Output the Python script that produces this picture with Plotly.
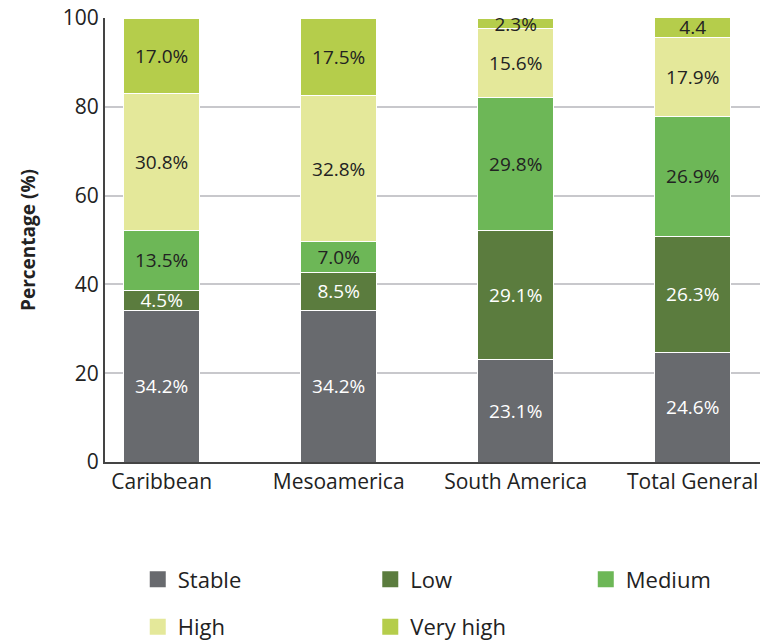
import plotly.graph_objects as go

categories = ["Caribbean", "Mesoamerica", "South America", "Total General"]
series_names = ["Stable", "Low", "Medium", "High", "Very high"]
stable = [34.2, 34.2, 23.1, 24.6]
low = [4.5, 8.5, 29.1, 26.3]
medium = [13.5, 7.0, 29.8, 26.9]
high = [30.8, 32.8, 15.6, 17.9]
very_high = [17.0, 17.5, 2.3, 4.4]
very_high_labels = ["17.0%", "17.5%", "2.3%", "4.4"]
y_ticks = [0, 20, 40, 60, 80, 100]

colors = ["#686a6e", "#5b7c3e", "#6db757", "#e4e89a", "#b5cd4b"]
text_colors = ["white", "white", "#222222", "#222222", "#222222"]
values = [stable, low, medium, high, very_high]
# legend column for each series (row-major: 3 columns)
legend_ids = ["legend", "legend2", "legend3", "legend", "legend2"]

FONT = "'Open Sans', sans-serif"

fig = go.Figure()
for i, (name, vals) in enumerate(zip(series_names, values)):
    if name == "Very high":
        labels = very_high_labels
    else:
        labels = [f"{v:.1f}%" for v in vals]
    fig.add_trace(go.Bar(
        x=categories, y=vals, name=name, showlegend=False,
        marker=dict(color=colors[i], line=dict(color="white", width=1)),
        text=labels, textposition="inside", insidetextanchor="middle",
        textangle=0, constraintext="none",
        textfont=dict(color=text_colors[i], size=19, family=FONT),
    ))
    # legend-only entry with a larger square swatch
    fig.add_trace(go.Scatter(
        x=[None], y=[None], mode="markers", name=name,
        marker=dict(symbol="square", size=16, color=colors[i]),
        legend=legend_ids[i], legendgroup=name, showlegend=True,
    ))

leg_common = dict(orientation="v", yanchor="top", y=-0.217, font=dict(size=22),
                  tracegroupgap=16, traceorder="grouped", itemsizing="trace",
                  bgcolor="rgba(0,0,0,0)")
fig.update_layout(
    barmode="stack",
    bargap=0.57,
    width=763, height=642,
    margin=dict(l=105, r=3, t=18, b=180, autoexpand=False),
    plot_bgcolor="white", paper_bgcolor="white",
    font=dict(family=FONT, color="#222222", size=20),
    legend=dict(x=0.05, xanchor="left", **leg_common),
    legend2=dict(x=0.405, xanchor="left", **leg_common),
    legend3=dict(x=0.734, xanchor="left", **leg_common),
)
fig.update_yaxes(
    range=[0, 100], tickvals=y_ticks, showgrid=True, gridcolor="#c8c8cc", gridwidth=2,
    showline=True, linecolor="#444444", linewidth=2, ticks="", tickfont=dict(size=21),
    title=dict(text="<b>Percentage (%)</b>", font=dict(size=19), standoff=22),
    zeroline=False,
)
fig.update_xaxes(
    range=[-0.32, 3.38],
    showline=True, linecolor="#444444", linewidth=2, ticks="", tickfont=dict(size=21),
)

fig.write_html("out.html")
